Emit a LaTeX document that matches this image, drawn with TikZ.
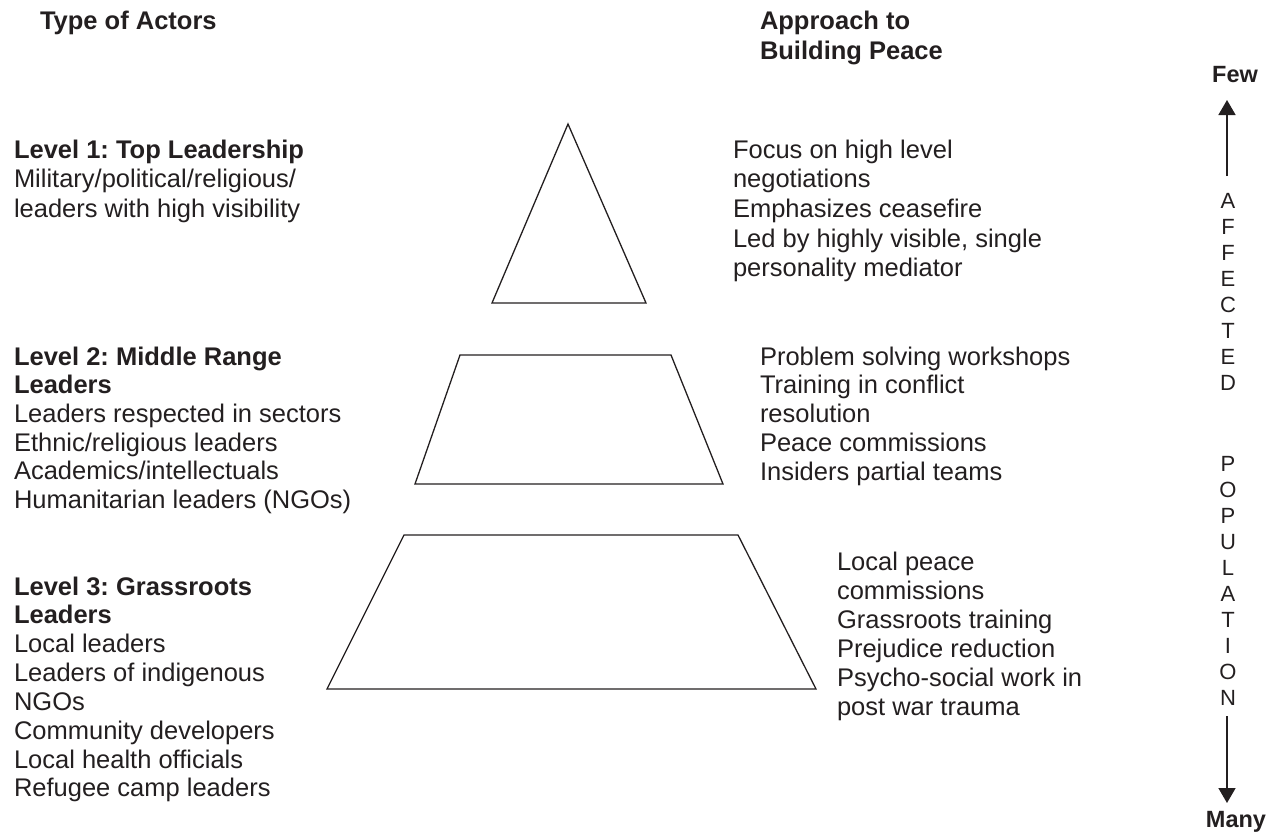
\documentclass[tikz,border=0pt]{standalone}
\usepackage{fontspec}
\setmainfont{Liberation Sans}
\usetikzlibrary{arrows.meta}
\definecolor{ink}{HTML}{231F20}
\frenchspacing
% a block of left-aligned lines whose baseline is that of its first line
\newcommand{\linestack}[1]{\begin{tabular}[t]{@{}l@{}}#1\end{tabular}}
\newcommand{\letterstack}[1]{\begin{tabular}[t]{@{}c@{}}#1\end{tabular}}
\begin{document}
\begin{tikzpicture}[x=1pt,y=-1pt,
  every node/.style={inner sep=0pt,outer sep=0pt,text=ink},
  txt/.style={anchor=base west,font=\fontsize{25.5}{29}\selectfont},
  head/.style={anchor=base west,font=\fontsize{25.5}{30.5}\selectfont\bfseries},
  vtxt/.style={anchor=base,font=\fontsize{22}{26.1}\selectfont},
  tag/.style={anchor=base,font=\fontsize{23.5}{28}\selectfont\bfseries},
  level/.style={draw=ink,line width=1.3pt,line join=miter},
  axis/.style={draw=ink,line width=1.6pt,-{Triangle[width=17pt,length=15pt]}}]
\useasboundingbox (0,0) rectangle (1272,831);
\renewcommand{\arraystretch}{1}

% column headings
\node[head] (actors) at (40,29) {Type of Actors};
\node[head] (approach) at (760,29) {\linestack{Approach to\\Building Peace}};

% pyramid levels
\draw[level] (568,124) -- (492,303) -- (646,303) -- cycle;
\draw[level] (460,355) -- (671,355) -- (723,484) -- (415,484) -- cycle;
\draw[level] (404,535) -- (738,535) -- (816,689) -- (327,689) -- cycle;

% actors at each level
\node[txt,font=\fontsize{25.5}{29.6}\selectfont] (top) at (14,158)
  {\linestack{\textbf{Level 1: Top Leadership}\\Military/political/religious/\\leaders with high visibility}};
\node[txt,font=\fontsize{25.5}{28.7}\selectfont] (middle) at (14,365)
  {\linestack{\textbf{Level 2: Middle Range}\\\textbf{Leaders}\\Leaders respected in sectors\\Ethnic/religious leaders\\Academics/intellectuals\\Humanitarian leaders (NGOs)}};
\node[txt,font=\fontsize{25.5}{28.85}\selectfont] (grass) at (14,595)
  {\linestack{\textbf{Level 3: Grassroots}\\\textbf{Leaders}\\Local leaders\\Leaders of indigenous\\NGOs\\Community developers\\Local health officials\\Refugee camp leaders}};

% approaches at each level
\node[txt,font=\fontsize{25.5}{29.7}\selectfont] (topapp) at (733,158)
  {\linestack{Focus on high level\\negotiations\\Emphasizes ceasefire\\Led by highly visible, single\\personality mediator}};
\node[txt,font=\fontsize{25.5}{28.75}\selectfont] (midapp) at (760,365)
  {\linestack{Problem solving workshops\\Training in conflict\\resolution\\Peace commissions\\Insiders partial teams}};
\node[txt] (grassapp) at (837,570)
  {\linestack{Local peace\\commissions\\Grassroots training\\Prejudice reduction\\Psycho-social work in\\post war trauma}};

% affected population scale
\node[tag] (few) at (1235,82) {Few};
\node[tag] (many) at (1236,827) {Many};
\node[vtxt] (affected) at (1228,208) {\letterstack{A\\F\\F\\E\\C\\T\\E\\D}};
\node[vtxt,font=\fontsize{22}{26}\selectfont] (population) at (1228,471) {\letterstack{P\\O\\P\\U\\L\\A\\T\\I\\O\\N}};
\coordinate (upstart) at (1227,176);
\coordinate (uptip) at (1227,100);
\coordinate (downstart) at (1227,716);
\coordinate (downtip) at (1227,803);
\draw[axis] (upstart) -- (uptip);
\draw[axis] (downstart) -- (downtip);
\end{tikzpicture}
\end{document}
